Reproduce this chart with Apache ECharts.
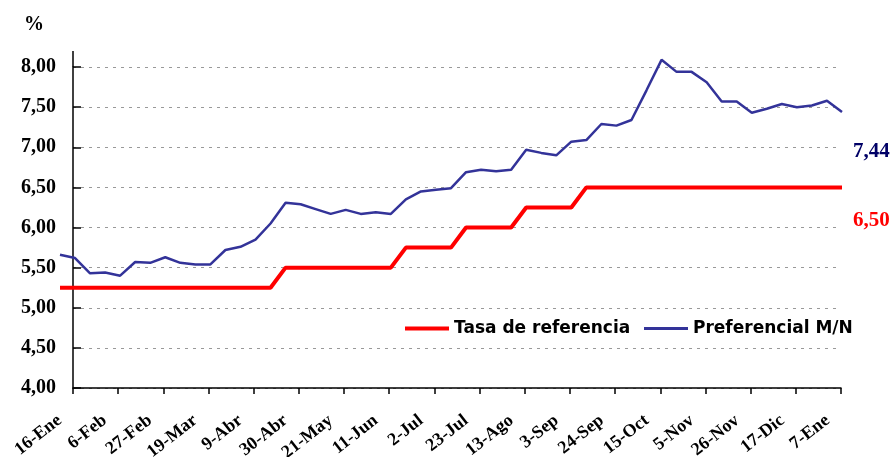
<!DOCTYPE html>
<html>
<head>
<meta charset="utf-8">
<script src="https://cdn.jsdelivr.net/npm/echarts@6/dist/echarts.min.js"></script>
<style>
  html, body { margin: 0; padding: 0; background: #fff; }
  #chart { width: 893px; height: 457px; }
</style>
</head>
<body>
<div id="chart"></div>
<script>
// semanas (una observación por semana)
const weeks = [
  '16-Ene', '23-Ene', '30-Ene', '6-Feb', '13-Feb', '20-Feb', '27-Feb', '5-Mar', '12-Mar', '19-Mar',
  '26-Mar', '2-Abr', '9-Abr', '16-Abr', '23-Abr', '30-Abr', '7-May', '14-May', '21-May', '28-May',
  '4-Jun', '11-Jun', '18-Jun', '25-Jun', '2-Jul', '9-Jul', '16-Jul', '23-Jul', '30-Jul', '6-Ago',
  '13-Ago', '20-Ago', '27-Ago', '3-Sep', '10-Sep', '17-Sep', '24-Sep', '1-Oct', '8-Oct', '15-Oct',
  '22-Oct', '29-Oct', '5-Nov', '12-Nov', '19-Nov', '26-Nov', '3-Dic', '10-Dic', '17-Dic', '24-Dic',
  '31-Dic', '7-Ene', '14-Ene'
]

const tasaReferencia = [
  5.25, 5.25, 5.25, 5.25, 5.25, 5.25, 5.25, 5.25, 5.25, 5.25, 5.25, 5.25, 5.25, 5.25, 5.25,
  5.50, 5.50, 5.50, 5.50, 5.50, 5.50, 5.50, 5.50,
  5.75, 5.75, 5.75, 5.75,
  6.00, 6.00, 6.00, 6.00,
  6.25, 6.25, 6.25, 6.25,
  6.50, 6.50, 6.50, 6.50, 6.50, 6.50, 6.50, 6.50, 6.50, 6.50, 6.50, 6.50, 6.50, 6.50, 6.50, 6.50, 6.50, 6.50
]

const preferencialMN = [
  5.66, 5.62, 5.43, 5.44, 5.40, 5.57, 5.56, 5.63, 5.56, 5.54,
  5.54, 5.72, 5.76, 5.85, 6.05, 6.31, 6.29, 6.23, 6.17, 6.22,
  6.17, 6.19, 6.17, 6.35, 6.45, 6.47, 6.49, 6.69, 6.72, 6.70,
  6.72, 6.97, 6.93, 6.90, 7.07, 7.09, 7.29, 7.27, 7.34, 7.71,
  8.09, 7.94, 7.94, 7.81, 7.57, 7.57, 7.43, 7.48, 7.54, 7.50,
  7.52, 7.58, 7.44
]

const yMin = 4, yMax = 8, yStep = 0.5
const yTop = 8.2 // el eje y sube un poco por encima de 8,00
const labelEvery = 3

const fmt = v => v.toFixed(2).replace('.', ',')

const chart = echarts.init(document.getElementById('chart'))

const legendText = { fontFamily: 'DejaVu Sans', fontWeight: 'bold', fontSize: 17, color: '#000' }

chart.setOption({
  animation: false,
  title: {
    text: '%',
    left: 19,
    top: 10,
    textStyle: { fontFamily: 'Liberation Serif', fontWeight: 'bold', fontSize: 20, color: '#000' }
  },
  // dos leyendas para poder dar a cada línea su grosor
  legend: [
    {
      left: 400, top: 315, itemWidth: 44, itemHeight: 4, icon: 'rect',
      textStyle: legendText, data: ['Tasa de referencia']
    },
    {
      left: 639, top: 315, itemWidth: 44, itemHeight: 3, icon: 'rect',
      textStyle: legendText, data: ['Preferencial M/N']
    }
  ],
  // grid 0: series (la primera semana queda a la izquierda del eje y)
  // grid 1: ejes visibles
  grid: [
    { left: 60, right: 51, top: 51, bottom: 69, outerBoundsMode: 'none' },
    { left: 73, right: 52, top: 67, bottom: 69, outerBoundsMode: 'none' }
  ],
  xAxis: [
    { gridIndex: 0, type: 'value', min: 0, max: weeks.length - 1, show: false },
    {
      gridIndex: 1,
      type: 'value',
      min: labelEvery,
      max: labelEvery * 18,
      interval: labelEvery,
      axisLine: { lineStyle: { color: '#000', width: 1.5 } },
      axisTick: { length: 6, lineStyle: { color: '#000', width: 1.5 } },
      splitLine: { show: false },
      axisLabel: {
        rotate: 38,
        margin: 20,
        padding: [0, 17, 0, 0],
        fontFamily: 'Liberation Serif',
        fontWeight: 'bold',
        fontSize: 18,
        color: '#000',
        formatter: v => weeks[Math.round(v) - labelEvery] || ''
      }
    }
  ],
  yAxis: [
    { gridIndex: 0, type: 'value', min: yMin, max: yTop, show: false },
    {
      gridIndex: 1,
      type: 'value',
      min: yMin,
      max: yMax,
      interval: yStep,
      axisLine: { show: true, lineStyle: { color: '#000', width: 1.5 } },
      axisTick: { show: true, inside: true, length: 8, lineStyle: { color: '#000', width: 1.5 } },
      splitLine: { lineStyle: { color: '#999', type: [3, 5], width: 1 } },
      axisLabel: {
        margin: 17,
        fontFamily: 'Liberation Serif',
        fontWeight: 'bold',
        fontSize: 20,
        color: '#000',
        formatter: v => fmt(v)
      }
    }
  ],
  graphic: [
    { type: 'line', shape: { x1: 73, y1: 51, x2: 73, y2: 67 }, style: { stroke: '#000', lineWidth: 1.5 } },
    {
      type: 'text', left: 853, top: 141,
      style: { text: fmt(preferencialMN[preferencialMN.length - 1]), fill: '#000066',
        font: 'bold 21px "Liberation Serif"' }
    },
    {
      type: 'text', left: 853, top: 210,
      style: { text: fmt(tasaReferencia[tasaReferencia.length - 1]), fill: '#ff0000',
        font: 'bold 21px "Liberation Serif"' }
    }
  ],
  series: [
    {
      name: 'Tasa de referencia',
      type: 'line',
      xAxisIndex: 0,
      yAxisIndex: 0,
      data: tasaReferencia.map((v, i) => [i, v]),
      symbol: 'none',
      color: '#ff0000',
      lineStyle: { color: '#ff0000', width: 4 }
    },
    {
      name: 'Preferencial M/N',
      type: 'line',
      xAxisIndex: 0,
      yAxisIndex: 0,
      data: preferencialMN.map((v, i) => [i, v]),
      symbol: 'none',
      color: '#333399',
      lineStyle: { color: '#333399', width: 2.5 }
    }
  ]
})
</script>
</body>
</html>
